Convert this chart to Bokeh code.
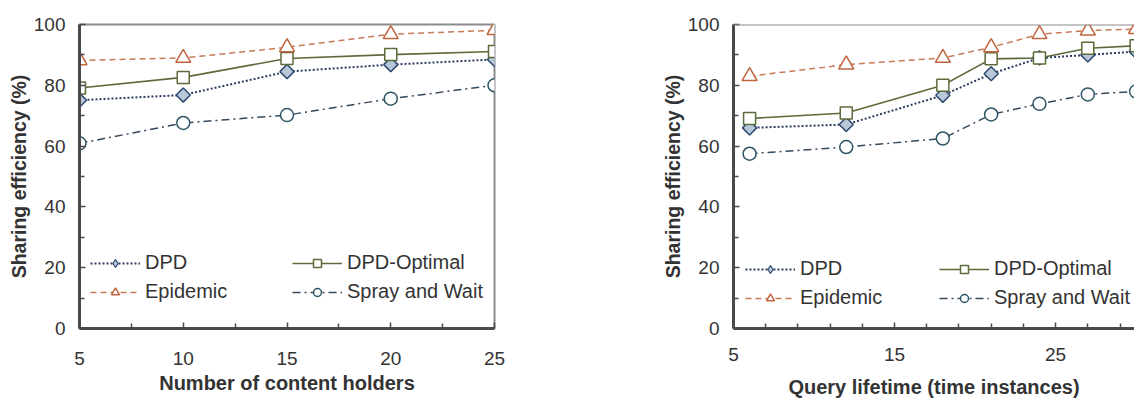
import math
from bokeh.plotting import figure
from bokeh.layouts import row
from bokeh.models import FixedTicker, Legend, LegendItem, Range1d, Span
from bokeh.embed import file_html
from bokeh.resources import INLINE

# ---- data: left panel (number of content holders) ----
x_holders = [5, 10, 15, 20, 25]
dpd_holders = [75.1, 76.8, 84.5, 86.8, 88.5]
opt_holders = [79.1, 82.6, 88.8, 90.1, 91.1]
epi_holders = [88.2, 89.0, 92.5, 96.8, 98.1]
spray_holders = [60.9, 67.6, 70.2, 75.6, 80.0]

# ---- data: right panel (query lifetime) ----
x_life = [6, 12, 18, 21, 24, 27, 30]
dpd_life = [66.0, 67.1, 76.7, 83.8, 89.0, 90.0, 91.1]
opt_life = [69.1, 70.9, 80.0, 88.7, 89.0, 92.2, 93.0]
epi_life = [83.0, 86.8, 89.0, 92.5, 96.8, 98.0, 98.5]
spray_life = [57.5, 59.7, 62.5, 70.4, 73.9, 77.0, 78.0]

series_names = ["DPD", "DPD-Optimal", "Epidemic", "Spray and Wait"]
y_major = [0, 20, 40, 60, 80, 100]
y_minor = [10, 30, 50, 70, 90]
xl_major = [5, 10, 15, 20, 25]
xl_minor = [7.5, 12.5, 17.5, 22.5]
xr_major = [5, 15, 25]
xr_minor = [7, 9, 11, 13, 17, 19, 21, 23, 27, 29]
y_title = "Sharing efficiency (%)"
x_title_left = "Number of content holders"
x_title_right = "Query lifetime (time instances)"

FONT = "Liberation Sans"
TXT = "#333333"
AX = "#4a4a4a"

STYLES = {
    "DPD": dict(line_color="#2e3b63", dash="2 2", lw=2.0, marker="square", size=10, angle=math.pi / 4,
                leg_marker="diamond", mline="#2e4a6e", mfill="#b9c8d8"),
    "DPD-Optimal": dict(line_color="#5b6b3a", dash="solid", lw=1.6, marker="square", size=12, angle=0,
                        leg_marker=None, mline="#5b6b3a", mfill="#ffffff"),
    "Epidemic": dict(line_color="#c77a56", dash="6 4", lw=1.5, marker="triangle", size=15, angle=0,
                     leg_marker=None, mline="#c0653f", mfill="#ffffff"),
    "Spray and Wait": dict(line_color="#34495e", dash="8 4 2 4", lw=1.5, marker="circle", size=13, angle=0,
                           leg_marker=None, mline="#2f5566", mfill="#ffffff"),
}


def make_fig(width, height, mb_left, mb_right, mb_top, mb_bottom, xr, xmaj, xmin,
             xlabel, xs, ys_list, leg_loc, leg_lw, x_standoff, xt_standoff, outline):
    p = figure(width=width, height=height, x_range=xr, y_range=Range1d(0, 100),
               output_backend="svg", toolbar_location=None,
               min_border_left=mb_left, min_border_right=mb_right,
               min_border_top=mb_top, min_border_bottom=mb_bottom)
    p.grid.visible = False
    p.background_fill_color = "white"
    p.border_fill_color = "white"
    if outline:
        p.outline_line_color = "#8c8c8c"
        p.outline_line_width = 2
    else:
        p.outline_line_color = None
        p.add_layout(Span(location=100, dimension="width", line_color="#8c8c8c", line_width=2))

    p.xaxis.ticker = FixedTicker(ticks=xmaj, minor_ticks=xmin)
    p.yaxis.ticker = FixedTicker(ticks=y_major, minor_ticks=y_minor)
    for ax in (p.xaxis, p.yaxis):
        ax.axis_line_width = 3
        ax.axis_line_color = AX
        ax.major_tick_in = 6
        ax.major_tick_out = 0
        ax.minor_tick_in = 5
        ax.minor_tick_out = 0
        ax.major_tick_line_color = AX
        ax.minor_tick_line_color = AX
        ax.major_tick_line_width = 1.5
        ax.minor_tick_line_width = 1.5
        ax.major_label_text_font = FONT
        ax.major_label_text_font_size = "19px"
        ax.major_label_text_color = TXT
        ax.axis_label_text_font = FONT
        ax.axis_label_text_font_style = "bold"
        ax.axis_label_text_color = TXT
    p.xaxis.axis_label_text_font_size = "20px"
    p.yaxis.axis_label_text_font_size = "19.5px"
    p.xaxis.major_label_standoff = x_standoff
    p.yaxis.major_label_standoff = 14
    p.xaxis.axis_label = xlabel
    p.xaxis.axis_label_standoff = xt_standoff
    p.yaxis.axis_label = y_title
    p.yaxis.axis_label_standoff = 1

    items = {}
    for name, ys in zip(series_names, ys_list):
        s = STYLES[name]
        ln = p.line(xs, ys, line_color=s["line_color"], line_width=s["lw"], line_dash=s["dash"])
        rends = [ln]
        if s["leg_marker"]:
            # drawn underneath the rotated squares (fully covered); gives the legend its diamond
            lm = p.scatter(xs, ys, marker=s["leg_marker"], size=11,
                           line_color=s["mline"], fill_color=s["mfill"], line_width=1.2)
            rends.append(lm)
        mk = p.scatter(xs, ys, marker=s["marker"], size=s["size"], angle=s["angle"],
                       line_color=s["mline"], fill_color=s["mfill"], line_width=1.5)
        if not s["leg_marker"]:
            rends.append(mk)
        items[name] = LegendItem(label=name, renderers=rends)

    legend = Legend(items=[items["DPD"], items["Epidemic"], items["DPD-Optimal"], items["Spray and Wait"]],
                    location=leg_loc, orientation="vertical", ncols=2, nrows=2,
                    glyph_width=50, glyph_height=20, label_height=20, label_width=leg_lw,
                    label_standoff=5, spacing=6, padding=0, margin=0,
                    border_line_color=None, background_fill_alpha=0,
                    label_text_font=FONT, label_text_font_size="20px", label_text_color=TXT)
    p.add_layout(legend, "center")
    return p


p1 = make_fig(568, 409, 79, 74, 24, 75, Range1d(5, 25), xl_major, xl_minor,
              x_title_left, x_holders,
              [dpd_holders, opt_holders, epi_holders, spray_holders], (11, 25), 141, 23, 4, True)
p2 = make_fig(566, 409, 165, 0, 23, 81, Range1d(5, 29.9), xr_major, xr_minor,
              x_title_right, x_life,
              [dpd_life, opt_life, epi_life, spray_life], (12, 19), 133, 19, 12, False)

layout = row(p1, p2)
open("out.html", "w").write(file_html(layout, INLINE))
